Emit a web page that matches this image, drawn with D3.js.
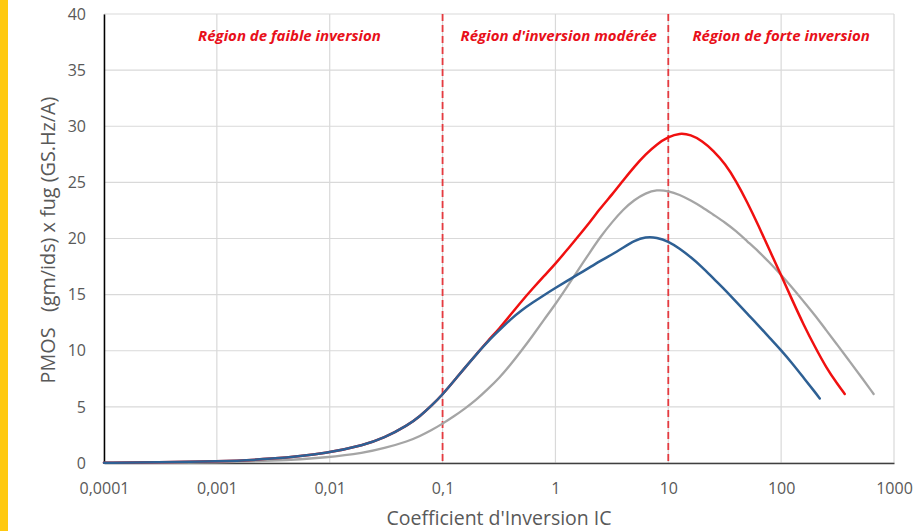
<!DOCTYPE html>
<html lang="fr">
<head>
<meta charset="utf-8">
<title>PMOS gm/ids x fug</title>
<script src="https://cdn.jsdelivr.net/npm/d3@7"></script>
<style>
  body { margin: 0; background: #fff; }
  svg { display: block; }
</style>
</head>
<body>
<svg width="923" height="531"></svg>
<script>
// valeurs
var xTicks = [0.0001, 0.001, 0.01, 0.1, 1, 10, 100, 1000];
var xTickLabels = ["0,0001", "0,001", "0,01", "0,1", "1", "10", "100", "1000"];
var yTicks = [0, 5, 10, 15, 20, 25, 30, 35, 40];

var icRouge = [0.0001, 0.0003, 0.001, 0.003, 0.01, 0.02, 0.03, 0.05, 0.063, 0.079,
  0.1, 0.126, 0.158, 0.2, 0.25, 0.32, 0.4, 0.5, 0.63, 0.79, 1, 1.26, 1.58, 2, 2.5, 3.2, 4, 5, 6.3, 7.9,
  10, 12.6, 15.8, 20, 25, 32, 40, 50, 63, 79, 100, 126, 158, 200, 250, 316, 366];
var valRouge = [0.02, 0.05, 0.13, 0.33, 0.9, 1.6, 2.2, 3.4, 4.17, 5.06,
  6.1, 7.3, 8.5, 9.7, 10.85, 12.0, 13.2, 14.4, 15.55, 16.65, 17.75, 18.95, 20.15, 21.4, 22.7, 23.95, 25.2, 26.4, 27.5, 28.4,
  29.05, 29.4, 29.25, 28.7, 27.85, 26.65, 25.1, 23.25, 21.15, 18.95, 16.72, 14.47, 12.32, 10.32, 8.52, 7.02, 6.15];

var icBleu = [0.0001, 0.0003, 0.001, 0.003, 0.01, 0.02, 0.03, 0.05, 0.063, 0.079,
  0.1, 0.126, 0.158, 0.2, 0.25, 0.32, 0.4, 0.5, 0.63, 0.79, 1, 1.26, 1.58, 2, 2.5, 3.2, 4, 5, 6.3, 7.9,
  10, 12.6, 15.8, 20, 25, 32, 40, 50, 63, 79, 100, 126, 158, 200, 220];
var valBleu = [0.02, 0.05, 0.13, 0.33, 0.9, 1.6, 2.2, 3.4, 4.17, 5.06,
  6.1, 7.3, 8.5, 9.7, 10.8, 11.85, 12.8, 13.6, 14.3, 14.95, 15.6, 16.2, 16.8, 17.4, 18.0, 18.6, 19.2, 19.8, 20.15, 20.1,
  19.75, 19.1, 18.35, 17.45, 16.45, 15.4, 14.35, 13.3, 12.25, 11.15, 10.05, 8.85, 7.6, 6.3, 5.75];

var icGris = [0.0001, 0.0003, 0.001, 0.003, 0.01, 0.02, 0.03, 0.05, 0.063, 0.079,
  0.1, 0.126, 0.158, 0.2, 0.25, 0.32, 0.4, 0.5, 0.63, 0.79, 1, 1.26, 1.58, 2, 2.5, 3.2, 4, 5, 6.3, 7.9,
  10, 12.6, 15.8, 20, 25, 32, 40, 50, 63, 79, 100, 126, 158, 200, 250, 316, 398, 501, 660];
var valGris = [0.01, 0.02, 0.05, 0.17, 0.5, 0.9, 1.3, 1.95, 2.4, 2.9,
  3.5, 4.15, 4.85, 5.65, 6.55, 7.6, 8.75, 10.0, 11.35, 12.75, 14.15, 15.65, 17.15, 18.7, 20.15, 21.5, 22.6, 23.45, 24.05, 24.35,
  24.25, 23.9, 23.4, 22.8, 22.13, 21.41, 20.65, 19.75, 18.85, 17.85, 16.75, 15.6, 14.4, 13.15, 11.85, 10.5, 9.15, 7.8, 6.15];

var regionLimites = [0.1, 10];
var regionLabels = ["Région de faible inversion", "Région d'inversion modérée", "Région de forte inversion"];
var regionCentres = [0.0044, 1.07, 100];
</script>

<script>
var svg = d3.select("svg");

// bande jaune a gauche
svg.append("rect")
  .attr("x", 0).attr("y", 0)
  .attr("width", 8).attr("height", 531)
  .attr("fill", "#FFC90E");

var scaleX = d3.scaleLog()
  .domain([0.0001, 1000])
  .range([104, 894]);

var scaleY = d3.scaleLinear()
  .domain([0, 40])
  .range([463, 14]);

// grille
var grille = svg.append("g");
grille.selectAll("line.h")
  .data(yTicks)
  .enter().append("line")
    .attr("x1", 104).attr("x2", 894)
    .attr("y1", function (d) { return scaleY(d) })
    .attr("y2", function (d) { return scaleY(d) })
    .attr("stroke", "#D9D9D9")
    .attr("stroke-width", 1.2);
grille.selectAll("line.v")
  .data(xTicks)
  .enter().append("line")
    .attr("x1", function (d) { return scaleX(d) })
    .attr("x2", function (d) { return scaleX(d) })
    .attr("y1", 14).attr("y2", 463)
    .attr("stroke", "#D9D9D9")
    .attr("stroke-width", 1.2);

// axes
var axeX = d3.axisBottom(scaleX)
  .tickValues(xTicks)
  .tickFormat(function (d, i) { return xTickLabels[i] })
  .tickSize(0)
  .tickPadding(20);
var gx = svg.append("g")
  .attr("transform", "translate(0,463)")
  .call(axeX);
gx.select(".domain").attr("stroke", "#404040").attr("stroke-width", 1.5);
gx.selectAll("text")
  .attr("fill", "#595959")
  .style("font-family", "'Open Sans', sans-serif")
  .style("font-size", "16px");

var axeY = d3.axisLeft(scaleY)
  .tickValues(yTicks)
  .tickSize(0)
  .tickPadding(18);
var gy = svg.append("g")
  .attr("transform", "translate(104,0)")
  .call(axeY);
gy.select(".domain").attr("stroke", "#000").attr("stroke-width", 1.5);
gy.selectAll("text")
  .attr("fill", "#595959")
  .style("font-family", "'Open Sans', sans-serif")
  .style("font-size", "16px");

// titres
svg.append("text")
  .attr("x", 499).attr("y", 525)
  .attr("text-anchor", "middle")
  .attr("fill", "#595959")
  .style("font-family", "'Open Sans', sans-serif")
  .style("font-size", "19.5px")
  .text("Coefficient d'Inversion IC");

svg.append("text")
  .attr("transform", "translate(55,240) rotate(-90)")
  .attr("text-anchor", "middle")
  .attr("fill", "#595959")
  .style("font-family", "'Open Sans', sans-serif")
  .style("font-size", "19.8px")
  .style("white-space", "pre")
  .text("PMOS   (gm/ids) x fug (GS.Hz/A)");

// limites des regions
svg.selectAll("line.limite")
  .data(regionLimites)
  .enter().append("line")
    .attr("x1", function (d) { return scaleX(d) })
    .attr("x2", function (d) { return scaleX(d) })
    .attr("y1", 14).attr("y2", 462)
    .attr("stroke", "#E53A3F")
    .attr("stroke-width", 1.8)
    .attr("stroke-dasharray", "7,4");

svg.selectAll("text.region")
  .data(regionLabels)
  .enter().append("text")
    .attr("x", function (d, i) { return scaleX(regionCentres[i]) })
    .attr("y", 41)
    .attr("text-anchor", "middle")
    .attr("fill", "#E8101A")
    .style("font-family", "'Open Sans', sans-serif")
    .style("font-weight", "bold")
    .style("font-style", "italic")
    .style("font-size", "15px")
    .text(function (d) { return d });

// courbes (lissage)
var courbe = d3.line()
  .x(function (d) { return scaleX(d[0]) })
  .y(function (d) { return scaleY(d[1]) })
  .curve(d3.curveBasis);

function paires(xs, ys) {
  return xs.map(function (x, i) { return [x, ys[i]] });
}

var series = [
  { data: paires(icGris, valGris), color: "#A5A5A5", w: 2.3 },
  { data: paires(icRouge, valRouge), color: "#F01010", w: 2.5 },
  { data: paires(icBleu, valBleu), color: "#2E6094", w: 2.5 }
];

svg.selectAll("path.serie")
  .data(series)
  .enter().append("path")
    .attr("fill", "none")
    .attr("stroke", function (d) { return d.color })
    .attr("stroke-width", function (d) { return d.w })
    .attr("stroke-linecap", "round")
    .attr("d", function (d) { return courbe(d.data) });
</script>
</body>
</html>
